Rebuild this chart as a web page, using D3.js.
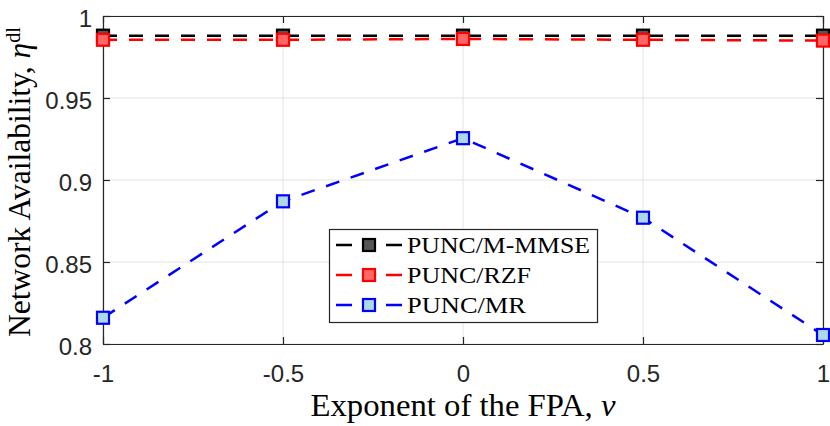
<!DOCTYPE html>
<html>
<head>
<meta charset="utf-8">
<script src="https://cdn.jsdelivr.net/npm/d3@7"></script>
<style>
  body { margin: 0; background: #fff; }
  svg { display: block; }
</style>
</head>
<body>
<svg id="chart" width="830" height="426"></svg>
<script>
'use strict';

// data
const fpaExponent = [-1, -0.5, 0, 0.5, 1];
const puncMmse = [0.988, 0.988, 0.988, 0.988, 0.988];
const puncRzf = [0.9855, 0.9855, 0.986, 0.9855, 0.985];
const puncMr = [0.816, 0.887, 0.9255, 0.877, 0.8055];
const xTicks = [-1, -0.5, 0, 0.5, 1];
const yTicks = [0.8, 0.85, 0.9, 0.95, 1];
const seriesNames = ['PUNC/M-MMSE', 'PUNC/RZF', 'PUNC/MR'];

const series = [
  { name: seriesNames[0], values: puncMmse, line: '#000000', fill: '#555555', textLen: 183 },
  { name: seriesNames[1], values: puncRzf, line: '#ff0000', fill: '#ff6666', textLen: 124 },
  { name: seriesNames[2], values: puncMr, line: '#0000ff', fill: '#add8e6', textLen: 119 },
];

const plot = { left: 103, right: 823, top: 16, bottom: 344 };
const axisColor = '#262626';
const tickLen = 7;
// plain hyphen minus, as in the original figure
const plainFormat = d => String(d);

const svg = d3.select('#chart');

const x = d3.scaleLinear().domain([-1, 1]).range([plot.left, plot.right]);
const y = d3.scaleLinear().domain([0.8, 1]).range([plot.bottom, plot.top]);

// grid
const grid = svg.append('g').attr('id', 'grid');
grid.selectAll('.gx')
  .data(xTicks)
  .enter()
  .append('line')
  .attr('x1', d => x(d)).attr('x2', d => x(d))
  .attr('y1', plot.top).attr('y2', plot.bottom)
  .attr('stroke', '#e3e3e3').attr('stroke-width', 1);
grid.selectAll('.gy')
  .data(yTicks)
  .enter()
  .append('line')
  .attr('x1', plot.left).attr('x2', plot.right)
  .attr('y1', d => y(d)).attr('y2', d => y(d))
  .attr('stroke', '#e3e3e3').attr('stroke-width', 1);

// axes (ticks pointing inward, on all four sides)
const axes = svg.append('g').attr('id', 'axes');
axes.append('g')
  .attr('transform', 'translate(0,' + plot.bottom + ')')
  .call(d3.axisBottom(x).tickValues(xTicks).tickSizeInner(-tickLen).tickSizeOuter(0).tickFormat(plainFormat))
  .call(g => g.selectAll('text').attr('dy', null).attr('y', 38));
axes.append('g')
  .attr('transform', 'translate(0,' + plot.top + ')')
  .call(d3.axisTop(x).tickValues(xTicks).tickSizeInner(-tickLen).tickSizeOuter(0).tickFormat(''));
axes.append('g')
  .attr('transform', 'translate(' + plot.left + ',0)')
  .call(d3.axisLeft(y).tickValues(yTicks).tickSizeInner(-tickLen).tickSizeOuter(0).tickFormat(plainFormat))
  .call(g => g.selectAll('text').attr('x', -11).attr('dy', '0.42em'));
axes.append('g')
  .attr('transform', 'translate(' + plot.right + ',0)')
  .call(d3.axisRight(y).tickValues(yTicks).tickSizeInner(-tickLen).tickSizeOuter(0).tickFormat(''));

axes.selectAll('.domain').attr('stroke', axisColor).attr('stroke-width', 1.2);
axes.selectAll('.tick line').attr('stroke', axisColor).attr('stroke-width', 1.2);
axes.selectAll('.tick text')
  .attr('fill', '#262626')
  .attr('font-family', '"Liberation Sans", Arial, sans-serif')
  .attr('font-size', 24);

// series: dashed line with square markers
const sq = 12;
const line = d3.line()
  .x((d, i) => x(fpaExponent[i]))
  .y(d => y(d));

series.forEach(function(s) {
  const g = svg.append('g').attr('class', 'series');
  g.append('path')
    .datum(s.values)
    .attr('d', line)
    .attr('fill', 'none')
    .attr('stroke', s.line)
    .attr('stroke-width', 2.5)
    .attr('stroke-dasharray', '14,12');
  g.selectAll('rect')
    .data(s.values)
    .enter()
    .append('rect')
    .attr('x', (d, i) => x(fpaExponent[i]) - sq / 2)
    .attr('y', d => y(d) - sq / 2)
    .attr('width', sq)
    .attr('height', sq)
    .attr('fill', s.fill)
    .attr('stroke', s.line)
    .attr('stroke-width', 2.2);
});

// legend
const serif = '"Liberation Serif", "Times New Roman", serif';
const legend = svg.append('g').attr('id', 'legend');
legend.append('rect')
  .attr('x', 329.5).attr('y', 229.5)
  .attr('width', 268).attr('height', 93)
  .attr('fill', '#fff')
  .attr('stroke', axisColor)
  .attr('stroke-width', 1.2);

const rows = legend.selectAll('.row')
  .data(series)
  .enter()
  .append('g')
  .attr('transform', (d, i) => 'translate(0,' + (245 + i * 30) + ')');
rows.append('line')
  .attr('x1', 336).attr('x2', 402)
  .attr('stroke', d => d.line)
  .attr('stroke-width', 2.5)
  .attr('stroke-dasharray', '16,34');
rows.append('rect')
  .attr('x', 369 - sq / 2).attr('y', -sq / 2)
  .attr('width', sq).attr('height', sq)
  .attr('fill', d => d.fill)
  .attr('stroke', d => d.line)
  .attr('stroke-width', 2.2);
rows.append('text')
  .attr('x', 407).attr('y', 8)
  .attr('font-family', serif)
  .attr('font-size', 22.5)
  .attr('textLength', d => d.textLen)
  .attr('lengthAdjust', 'spacingAndGlyphs')
  .text(d => d.name);

// axis titles
const xTitle = svg.append('text')
  .attr('x', (plot.left + plot.right) / 2)
  .attr('y', 416)
  .attr('text-anchor', 'middle')
  .attr('font-family', serif)
  .attr('font-size', 32)
  .attr('textLength', 305)
  .attr('lengthAdjust', 'spacingAndGlyphs');
xTitle.append('tspan').text('Exponent of the FPA, ');
xTitle.append('tspan').attr('font-style', 'italic').text('ν');

const yTitle = svg.append('text')
  .attr('transform', 'translate(30,' + 182 + ') rotate(-90)')
  .attr('text-anchor', 'middle')
  .attr('font-family', serif)
  .attr('font-size', 31)
  .attr('textLength', 310)
  .attr('lengthAdjust', 'spacingAndGlyphs');
yTitle.append('tspan').text('Network Availability, ');
yTitle.append('tspan').attr('font-style', 'italic').text('η');
yTitle.append('tspan').attr('font-size', 20).attr('dy', -10).text('dl');
</script>
</body>
</html>
